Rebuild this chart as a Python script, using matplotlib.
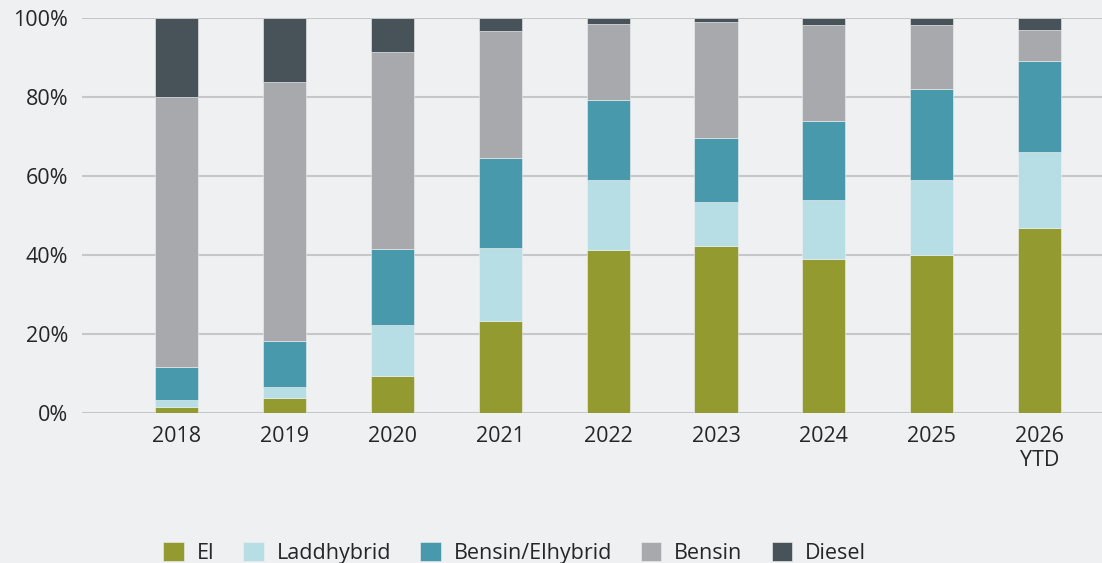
import matplotlib
matplotlib.use("Agg")
import matplotlib.pyplot as plt
import numpy as np

categories = ["2018", "2019", "2020", "2021", "2022", "2023", "2024", "2025", "2026\nYTD"]
el = [1.4, 3.9, 9.4, 23.2, 41.3, 42.2, 39.0, 40.0, 46.9]
laddhybrid = [1.9, 2.7, 12.9, 18.6, 17.6, 11.3, 15.0, 19.1, 19.1]
bensin_elhybrid = [8.3, 11.7, 19.2, 22.8, 20.4, 16.1, 19.9, 22.9, 23.1]
bensin = [68.5, 65.5, 49.9, 32.1, 19.2, 29.4, 24.3, 16.2, 7.9]
diesel = [19.9, 16.2, 8.6, 3.3, 1.5, 1.0, 1.8, 1.8, 3.0]

series = [("El", el, "#939a2f"),
          ("Laddhybrid", laddhybrid, "#b7dee4"),
          ("Bensin/Elhybrid", bensin_elhybrid, "#4799ab"),
          ("Bensin", bensin, "#a8a9ad"),
          ("Diesel", diesel, "#475259")]
yticks = [0, 20, 40, 60, 80, 100]
ytick_labels = ["0%", "20%", "40%", "60%", "80%", "100%"]

plt.rcParams['font.family'] = ['Open Sans', 'DejaVu Sans']
bg = "#eff0f2"
fig = plt.figure(figsize=(11.02, 5.63), dpi=100, facecolor=bg)
ax = fig.add_axes([82/1102, 1-413/563, 1020/1102, 395/563])
ax.set_facecolor(bg)

x = np.arange(len(categories))
bottom = np.zeros(len(categories))
handles = []
for name, vals, col in series:
    v = np.array(vals)
    b = ax.bar(x, v, width=0.4, bottom=bottom, color=col, label=name,
               edgecolor=bg, linewidth=0.4, zorder=3)
    bottom += v
    handles.append(b)

ax.set_xlim(-0.88, 8.58)
ax.set_ylim(0, 100)
ax.set_yticks(yticks)
ax.set_yticklabels(ytick_labels)
ax.set_xticks(x)
ax.set_xticklabels(categories, linespacing=1.25)
ax.yaxis.grid(True, color="#c6c7c9", linewidth=1.5, zorder=0)
ax.set_axisbelow(True)
for s in ax.spines.values():
    s.set_visible(False)
ax.tick_params(axis='both', length=0, labelsize=15.5, colors="#262626")
ax.tick_params(axis='y', pad=10)
ax.tick_params(axis='x', pad=9)

fig.legend(handles=handles, labels=[s[0] for s in series], loc="center",
           bbox_to_anchor=(0.467, 1-553/563), ncol=5, frameon=False,
           fontsize=15.5, handlelength=0.95, handleheight=0.95,
           handletextpad=0.6, columnspacing=1.35, labelcolor="#262626")

fig.savefig("out.png", dpi=100, facecolor=bg)
